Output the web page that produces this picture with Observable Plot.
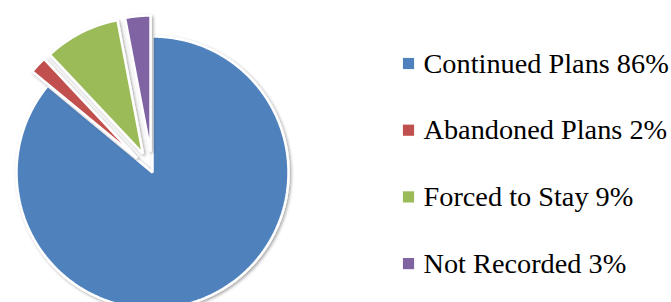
<!DOCTYPE html>
<html>
<head>
<meta charset="utf-8">
<script src="https://cdn.jsdelivr.net/npm/d3@7"></script>
<script src="https://cdn.jsdelivr.net/npm/@observablehq/plot@0.6"></script>
<style>
  html, body { margin: 0; padding: 0; background: #fff; }
  #chart svg { display: block; }
</style>
</head>
<body>
<div id="chart"></div>
<script>
// ---- data ----
const categories = ["Continued Plans", "Abandoned Plans", "Forced to Stay", "Not Recorded"];
const values = [86, 2, 9, 3];
const labels = ["Continued Plans 86%", "Abandoned Plans 2%", "Forced to Stay 9%", "Not Recorded 3%"];
const exploded = [false, true, true, true];
const colors = ["#4F81BD", "#C0504D", "#9BBB59", "#8064A2"];

// ---- layout constants (pixels) ----
const W = 671, H = 302;
const R = 136;           // pie radius in px
const CX = 152, CY = 172; // pie centre in px
const EXPLODE = 0.155;   // offset as fraction of radius
const legendSquareX = 408, legendTextX = 423, legendTop = 63, legendStep = 66.7;

// data units: 1 = pie radius, origin at centre, y up
const toX = px => (px - CX) / R;
const toY = py => (CY - py) / R;

const arcs = d3.pie().sort(null).value((d, i) => values[i])(categories);
const pts = [];
arcs.forEach((a, i) => {
  const mid = (a.startAngle + a.endAngle) / 2;
  const off = exploded[i] ? EXPLODE : 0;
  const ox = off * Math.sin(mid), oy = off * Math.cos(mid);
  pts.push({cat: categories[i], x: ox, y: oy});
  const n = Math.max(8, Math.ceil((a.endAngle - a.startAngle) / 0.01));
  for (let k = 0; k <= n; k++) {
    const t = a.startAngle + (a.endAngle - a.startAngle) * k / n;
    pts.push({cat: categories[i], x: ox + Math.sin(t), y: oy + Math.cos(t)});
  }
});

const legend = categories.map((c, i) => ({
  cat: c, label: labels[i],
  sx: toX(legendSquareX), tx: toX(legendTextX), y: toY(legendTop + i * legendStep)
}));

const plot = Plot.plot({
  width: W, height: H,
  margin: 0,
  x: {domain: [toX(0), toX(W)], axis: null},
  y: {domain: [toY(H), toY(0)], axis: null},
  color: {domain: categories, range: colors},
  marks: [
    Plot.line(pts, {x: "x", y: "y", z: "cat", fill: "cat", stroke: "white", strokeWidth: 2.5, curve: "linear-closed", strokeLinejoin: "miter"}),
    Plot.dot(legend, {x: "sx", y: "y", fill: "cat", symbol: "square", r: 6.3, stroke: null}),
    Plot.text(legend, {x: "tx", y: "y", text: "label", textAnchor: "start", fontSize: 28.3, fontFamily: "Liberation Serif", fill: "#000"})
  ]
});

// soft drop shadow for the pie slices
const ns = "http://www.w3.org/2000/svg";
const defs = document.createElementNS(ns, "defs");
defs.innerHTML = '<filter id="sh" x="-20%" y="-20%" width="140%" height="140%"><feDropShadow dx="1.5" dy="1.5" stdDeviation="1.5" flood-color="#000" flood-opacity="0.35"/></filter>';
plot.insertBefore(defs, plot.firstChild);
const lineG = plot.querySelector('g[aria-label="line"]');
if (lineG) lineG.querySelectorAll("path").forEach(p => p.setAttribute("filter", "url(#sh)"));

document.getElementById("chart").appendChild(plot);
</script>
</body>
</html>
